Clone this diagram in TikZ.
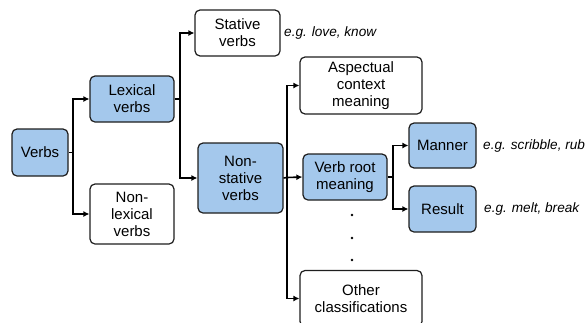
\documentclass[tikz,border=0pt]{standalone}
\usepackage{fontspec}
\setmainfont{Liberation Sans}
\usetikzlibrary{arrows.meta}
\definecolor{boxblue}{RGB}{164,200,236}
\definecolor{boxline}{RGB}{30,30,30}
\begin{document}
\begin{tikzpicture}[x=1pt,y=-1pt,
  box/.style={draw=boxline,line width=1.2pt,rounded corners=5pt,align=center,inner sep=1pt,
    font=\fontsize{15}{17}\selectfont},
  bluebox/.style={box,fill=boxblue},
  whitebox/.style={box,fill=white},
  arr/.style={line width=1.6pt,-{Latex[length=6pt,width=6pt]}},
  ex/.style={anchor=west,inner sep=0pt,font=\fontsize{13.6}{16}\selectfont\itshape},
  dotmark/.style={circle,fill=black,inner sep=0pt,minimum size=2.6pt}]
\useasboundingbox (0,0) rectangle (587,322);
\node[bluebox,minimum width=56pt,minimum height=47pt] (verbs) at (40,152.5) {Verbs};
\node[bluebox,minimum width=84pt,minimum height=46pt] (lex) at (132,99) {Lexical\\verbs};
\node[whitebox,minimum width=84pt,minimum height=60pt] (nonlex) at (132,214) {Non-\\lexical\\verbs};
\node[whitebox,minimum width=85pt,minimum height=46pt] (stat) at (237.5,33) {Stative\\verbs};
\node[bluebox,minimum width=85pt,minimum height=70pt] (nonstat) at (240.5,178) {Non-\\stative\\verbs};
\node[whitebox,minimum width=122pt,minimum height=57pt] (asp) at (361,85.5) {Aspectual\\context\\meaning};
\node[bluebox,minimum width=84pt,minimum height=46pt] (vrm) at (345,177) {Verb root\\meaning};
\node[bluebox,minimum width=67pt,minimum height=45pt] (manner) at (442.5,145.5) {Manner};
\node[bluebox,minimum width=67pt,minimum height=46pt] (result) at (442.5,209) {Result};
\node[whitebox,minimum width=122pt,minimum height=56pt] (other) at (361,298.5) {Other\\classifications};
\coordinate (j1) at (73,152.5);
\coordinate (j2) at (180,99);
\coordinate (j3) at (287,177.5);
\coordinate (j4) at (393,177);
\draw[line width=1.6pt] (verbs.east) -- (j1);
\draw[arr] (j1) |- (lex.west);
\draw[arr] (j1) |- (nonlex.west);
\draw[line width=1.6pt] (lex.east) -- (j2);
\draw[arr] (j2) |- (stat.west);
\draw[arr] (j2) |- (nonstat.west);
\draw[line width=1.6pt] (nonstat.east) -- (j3);
\draw[arr] (j3) |- (asp.west);
\draw[arr] (j3) -- (vrm.west);
\draw[arr] (j3) |- (other.west);
\draw[line width=1.6pt] (vrm.east) -- (j4);
\draw[arr] (j4) |- (manner.west);
\draw[arr] (j4) |- (result.west);
\node[dotmark] (d1) at (352,215) {};
\node[dotmark] (d2) at (352,238) {};
\node[dotmark] (d3) at (352,260) {};
\node[ex] (ex1) at (284,33) {e.g. love, know};
\node[ex] (ex2) at (483,145.5) {e.g. scribble, rub};
\node[ex] (ex3) at (484,209) {e.g. melt, break};
\end{tikzpicture}
\end{document}
